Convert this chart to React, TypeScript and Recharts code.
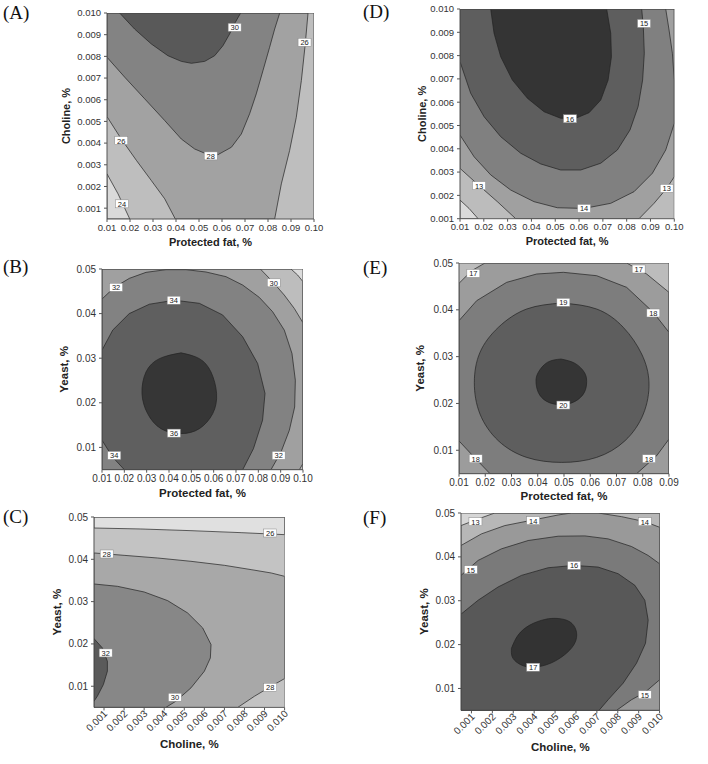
import React from "react";
import { ScatterChart, Scatter, XAxis, YAxis } from "recharts";

type Pt = [number, number];

// ---------- (A) Choline vs Protected fat
const aFatTicks = [0.01, 0.02, 0.03, 0.04, 0.05, 0.06, 0.07, 0.08, 0.09, 0.1];
const aCholineTicks = [0.001, 0.002, 0.003, 0.004, 0.005, 0.006, 0.007, 0.008, 0.009, 0.01];
const aBelow24: Pt[] = [[0.01, 0.0005], [0.01, 0.00258], [0.0148, 0.00166], [0.0199, 0.0005]];
const aAbove26: Pt[] = [
  [0.01, 0.00522], [0.0162, 0.00419], [0.0228, 0.0032], [0.0293, 0.00227], [0.0351, 0.00143], [0.0397, 0.0005],
  [0.0829, 0.0005], [0.0858, 0.00212], [0.0894, 0.00366], [0.0923, 0.00519], [0.0945, 0.00688], [0.0962, 0.00857],
  [0.0974, 0.01], [0.01, 0.01],
];
const aAbove28: Pt[] = [
  [0.01, 0.00796], [0.0177, 0.00704], [0.0264, 0.00604], [0.0351, 0.00504], [0.0423, 0.00419], [0.0481, 0.00373],
  [0.0539, 0.00347], [0.0583, 0.00347], [0.0641, 0.00381], [0.0684, 0.00442], [0.072, 0.00535], [0.0749, 0.00627],
  [0.0778, 0.00734], [0.0807, 0.00842], [0.0829, 0.00926], [0.0851, 0.01], [0.01, 0.01],
];
const aAbove30: Pt[] = [
  [0.0155, 0.01], [0.022, 0.00926], [0.0293, 0.00857], [0.0365, 0.00803], [0.0423, 0.00777], [0.0467, 0.00768],
  [0.0525, 0.00777], [0.0568, 0.00803], [0.0604, 0.00849], [0.0633, 0.00903], [0.0658, 0.00957], [0.0681, 0.01],
];
const aLabels = [
  { x: 0.0655, y: 0.00934, text: "30" },
  { x: 0.0959, y: 0.00865, text: "26" },
  { x: 0.0162, y: 0.00412, text: "26" },
  { x: 0.0551, y: 0.00341, text: "28" },
  { x: 0.0165, y: 0.0012, text: "24" },
];

// ---------- (D) Choline vs Protected fat
const dFatTicks = [0.01, 0.02, 0.03, 0.04, 0.05, 0.06, 0.07, 0.08, 0.09, 0.1];
const dCholineTicks = [0.001, 0.002, 0.003, 0.004, 0.005, 0.006, 0.007, 0.008, 0.009, 0.01];
const dBelow12: Pt[] = [[0.01, 0.001], [0.01, 0.0018], [0.0138, 0.00144], [0.0176, 0.001]];
const dAbove13: Pt[] = [
  [0.01, 0.00316], [0.018, 0.00242], [0.0257, 0.00173], [0.0334, 0.001], [0.0852, 0.001], [0.0915, 0.00166],
  [0.0968, 0.0023], [0.1, 0.0028], [0.1, 0.01], [0.01, 0.01],
];
const dAbove14: Pt[] = [
  [0.01, 0.00459], [0.0159, 0.00366], [0.0229, 0.00288], [0.0313, 0.00223], [0.0411, 0.00173], [0.0509, 0.00147],
  [0.0621, 0.00144], [0.0733, 0.00166], [0.0831, 0.00216], [0.0908, 0.00295], [0.0964, 0.00395], [0.1, 0.00509],
  [0.1, 0.00695], [0.0992, 0.0081], [0.0978, 0.0091], [0.0964, 0.01], [0.01, 0.01],
];
const dAbove15: Pt[] = [
  [0.01, 0.00774], [0.0145, 0.00638], [0.0201, 0.00538], [0.0271, 0.00452], [0.0355, 0.00381], [0.0439, 0.00335],
  [0.0523, 0.00309], [0.0607, 0.00309], [0.0691, 0.00338], [0.0761, 0.00395], [0.0814, 0.00481], [0.0848, 0.00581],
  [0.0867, 0.00695], [0.0874, 0.0081], [0.087, 0.00924], [0.0863, 0.01], [0.01, 0.01],
];
const dAbove16: Pt[] = [
  [0.0229, 0.01], [0.0243, 0.00896], [0.0271, 0.00795], [0.032, 0.00695], [0.0383, 0.00617], [0.0453, 0.00559],
  [0.0523, 0.00531], [0.0586, 0.00531], [0.0642, 0.00555], [0.0691, 0.00609], [0.0722, 0.00695], [0.0736, 0.00795],
  [0.0733, 0.00896], [0.0716, 0.01],
];
const dLabels = [
  { x: 0.0873, y: 0.00938, text: "15" },
  { x: 0.0562, y: 0.00529, text: "16" },
  { x: 0.018, y: 0.00242, text: "13" },
  { x: 0.0621, y: 0.00144, text: "14" },
  { x: 0.0968, y: 0.0023, text: "13" },
];

// ---------- (B) Yeast vs Protected fat
const bFatTicks = [0.01, 0.02, 0.03, 0.04, 0.05, 0.06, 0.07, 0.08, 0.09, 0.1];
const bYeastTicks = [0.01, 0.02, 0.03, 0.04, 0.05];
const bAbove28: Pt[] = [[0.01, 0.005], [0.01, 0.05], [0.0946, 0.05], [0.0976, 0.04865], [0.1, 0.04715], [0.1, 0.005]];
const bAbove30: Pt[] = [
  [0.01, 0.005], [0.01, 0.05], [0.0809, 0.05], [0.0864, 0.04715], [0.0916, 0.04416], [0.0961, 0.04116],
  [0.1, 0.03794], [0.1, 0.0064], [0.0984, 0.005],
];
const bAbove32: Pt[] = [
  [0.01, 0.04326], [0.01552, 0.04588], [0.02224, 0.0479], [0.0297, 0.04925], [0.03866, 0.04985], [0.04761, 0.04985],
  [0.05657, 0.04933], [0.06552, 0.04828], [0.07299, 0.0464], [0.08045, 0.04363], [0.08642, 0.04041], [0.09164, 0.03629],
  [0.09507, 0.03105], [0.09657, 0.02506], [0.09627, 0.01906], [0.09388, 0.01382], [0.09015, 0.00895], [0.08567, 0.005],
  [0.01, 0.005],
];
const bAbove34: Pt[] = [
  [0.01, 0.0318], [0.0148, 0.0363], [0.0222, 0.04], [0.0312, 0.0421], [0.0424, 0.043], [0.0536, 0.0423],
  [0.064, 0.0397], [0.073, 0.0348], [0.0797, 0.0288], [0.083, 0.0221], [0.0819, 0.0161], [0.0778, 0.0097],
  [0.073, 0.005], [0.02, 0.005], [0.0148, 0.0078], [0.01, 0.0116],
];
const bAbove36: Pt[] = [
  [0.0454, 0.0312], [0.0536, 0.0299], [0.0588, 0.0269], [0.0613, 0.0221], [0.0596, 0.0176], [0.0536, 0.0142],
  [0.0454, 0.0131], [0.0364, 0.0142], [0.0304, 0.0176], [0.0279, 0.0221], [0.0297, 0.0269], [0.0357, 0.0299],
];
const bLabels = [
  { x: 0.0163, y: 0.0459, text: "32" },
  { x: 0.0421, y: 0.043, text: "34" },
  { x: 0.0869, y: 0.0469, text: "30" },
  { x: 0.0422, y: 0.0132, text: "36" },
  { x: 0.0155, y: 0.0082, text: "34" },
  { x: 0.0891, y: 0.0082, text: "32" },
];

// ---------- (E) Yeast vs Protected fat
const eFatTicks = [0.01, 0.02, 0.03, 0.04, 0.05, 0.06, 0.07, 0.08, 0.09];
const eYeastTicks = [0.01, 0.02, 0.03, 0.04, 0.05];
const eAbove17: Pt[] = [
  [0.01, 0.005], [0.01, 0.04566], [0.01483, 0.04836], [0.0199, 0.05], [0.07387, 0.05], [0.08149, 0.04765],
  [0.09, 0.04373], [0.09, 0.005],
];
const eAbove18: Pt[] = [
  [0.01, 0.03768], [0.01673, 0.04195], [0.02816, 0.04587], [0.03959, 0.04765], [0.04975, 0.04801], [0.06244, 0.04729],
  [0.07387, 0.0448], [0.08403, 0.03946], [0.09, 0.03519], [0.09, 0.01239], [0.0853, 0.00883], [0.07768, 0.005],
  [0.02181, 0.005], [0.0161, 0.00833], [0.01, 0.012],
];
const eAbove19: Pt[] = [
  [0.04911, 0.04145], [0.06244, 0.04017], [0.0726, 0.03625], [0.07959, 0.03056], [0.08238, 0.02443], [0.08022, 0.01774],
  [0.07324, 0.01204], [0.06244, 0.00848], [0.04911, 0.00741], [0.03578, 0.00848], [0.02498, 0.01204], [0.018, 0.01774],
  [0.01584, 0.02443], [0.018, 0.03091], [0.02498, 0.03625], [0.03578, 0.04017],
];
const eAbove20: Pt[] = [
  [0.04886, 0.02949], [0.05419, 0.02856], [0.05775, 0.02664], [0.05863, 0.02471], [0.05775, 0.02236], [0.05419, 0.02044],
  [0.04886, 0.01973], [0.0434, 0.02044], [0.04022, 0.02236], [0.03933, 0.02471], [0.04022, 0.02664], [0.04365, 0.02877],
];
const eLabels = [
  { x: 0.01546, y: 0.04779, text: "17" },
  { x: 0.07844, y: 0.04872, text: "17" },
  { x: 0.04975, y: 0.0416, text: "19" },
  { x: 0.08403, y: 0.03932, text: "18" },
  { x: 0.04975, y: 0.01966, text: "20" },
  { x: 0.01635, y: 0.00819, text: "18" },
  { x: 0.08238, y: 0.00819, text: "18" },
];

// ---------- (C) Yeast vs Choline
const cCholineTicks = [0.001, 0.002, 0.003, 0.004, 0.005, 0.006, 0.007, 0.008, 0.009, 0.01];
const cYeastTicks = [0.01, 0.02, 0.03, 0.04, 0.05];
const cBelow26: Pt[] = [
  [0.0005, 0.05], [0.01, 0.05], [0.01, 0.04583], [0.007833, 0.0463], [0.005333, 0.04677], [0.002833, 0.04717],
  [0.0005, 0.0474],
];
const cAbove28: Pt[] = [
  [0.0005, 0.0415], [0.002, 0.04094], [0.003667, 0.04031], [0.005333, 0.03953], [0.007, 0.03858], [0.008333, 0.03756],
  [0.009333, 0.03677], [0.01, 0.03598], [0.01, 0.01181], [0.009333, 0.01], [0.0085, 0.00764], [0.007667, 0.005],
  [0.0005, 0.005],
];
const cAbove30: Pt[] = [
  [0.0005, 0.03417], [0.001667, 0.03362], [0.003, 0.03228], [0.004167, 0.03024], [0.005167, 0.02732], [0.005917, 0.02378],
  [0.006333, 0.01984], [0.0063, 0.01669], [0.006, 0.01354], [0.005333, 0.00961], [0.004583, 0.00646], [0.004083, 0.005],
  [0.0005, 0.005],
];
const cAbove32: Pt[] = [
  [0.0005, 0.02126], [0.000917, 0.01906], [0.001167, 0.01591], [0.001167, 0.01354], [0.000967, 0.01039],
  [0.000667, 0.00764], [0.0005, 0.00646],
];
const cLabels = [
  { x: 0.009283, y: 0.04622, text: "26" },
  { x: 0.001133, y: 0.04126, text: "28" },
  { x: 0.001083, y: 0.01787, text: "32" },
  { x: 0.004533, y: 0.0074, text: "30" },
  { x: 0.009283, y: 0.00976, text: "28" },
];

// ---------- (F) Yeast vs Choline
const fCholineTicks = [0.001, 0.002, 0.003, 0.004, 0.005, 0.006, 0.007, 0.008, 0.009, 0.01];
const fYeastTicks = [0.01, 0.02, 0.03, 0.04, 0.05];
const fAbove13: Pt[] = [
  [0.0005, 0.005], [0.0005, 0.04713], [0.001319, 0.04864], [0.002116, 0.05], [0.01, 0.05], [0.01, 0.005],
];
const fAbove14: Pt[] = [
  [0.0005, 0.005], [0.0005, 0.04259], [0.001478, 0.04524], [0.002595, 0.04713], [0.003951, 0.04841], [0.005147, 0.04955],
  [0.005785, 0.05], [0.007061, 0.05], [0.008177, 0.04917], [0.009293, 0.04803], [0.01, 0.04675], [0.01, 0.005],
];
const fAbove15: Pt[] = [
  [0.0005, 0.005], [0.0005, 0.03578], [0.001319, 0.03919], [0.002435, 0.04183], [0.003711, 0.04372], [0.005147, 0.04471],
  [0.006423, 0.04478], [0.007539, 0.0441], [0.008656, 0.04236], [0.009453, 0.04032], [0.01, 0.03843], [0.01, 0.01197],
  [0.009293, 0.00909], [0.008656, 0.00743], [0.007938, 0.005],
];
const fAbove16: Pt[] = [
  [0.0005, 0.005], [0.0005, 0.02694], [0.001319, 0.03011], [0.002276, 0.03314], [0.003392, 0.03578], [0.004668, 0.03752],
  [0.005912, 0.03805], [0.007061, 0.03767], [0.008018, 0.03616], [0.008815, 0.03352], [0.009293, 0.03011],
  [0.009453, 0.02558], [0.009325, 0.02028], [0.008895, 0.01575], [0.008257, 0.01121], [0.007539, 0.00743],
  [0.0071, 0.005],
];
const fAbove17: Pt[] = [
  [0.002914, 0.01915], [0.003233, 0.02217], [0.003791, 0.02444], [0.004509, 0.02573], [0.005147, 0.02595],
  [0.005705, 0.0252], [0.006, 0.02331], [0.006, 0.02104], [0.005705, 0.01877], [0.005147, 0.01665], [0.004509, 0.01529],
  [0.003791, 0.01484], [0.003233, 0.01575], [0.002946, 0.01726],
];
const fLabels = [
  { x: 0.001191, y: 0.04803, text: "13" },
  { x: 0.003951, y: 0.04826, text: "14" },
  { x: 0.009293, y: 0.04803, text: "14" },
  { x: 0.000968, y: 0.03707, text: "15" },
  { x: 0.005912, y: 0.03805, text: "16" },
  { x: 0.003951, y: 0.01484, text: "17" },
  { x: 0.009293, y: 0.00856, text: "15" },
];

const SANS = "'Liberation Sans', Arial, sans-serif";
const LINE = "#222";

// smooth = closed loop inside the plot, drawn with a natural spline
type Region = { pts: Pt[]; fill: string; smooth?: boolean };
type Tag = { x: number; y: number; text: string };

// close the ring so the stroke runs all the way round
const toRing = (pts: Pt[]) => [...pts, pts[0]].map(([x, y]) => ({ x, y }));

const NoDot = () => <g />;

const ContourLabel = (props: any) => {
  const { cx, cy } = props;
  const text: string = props.payload?.text ?? props.text;
  const w = text.length * 5 + 3;
  return (
    <g>
      <rect x={cx - w / 2} y={cy - 4} width={w} height={8} fill="#fff" stroke="#888" strokeWidth={0.5} />
      <text x={cx} y={cy + 3} textAnchor="middle" fontSize={7.5} fill="#222" fontFamily={SANS}>
        {text}
      </text>
    </g>
  );
};

const SlantTick = (props: any) => {
  const { x, y, payload, digits, fontSize } = props;
  return (
    <text
      x={x + 4}
      y={y + 2}
      textAnchor="end"
      fontSize={fontSize}
      fill="#333"
      fontFamily={SANS}
      transform={`rotate(-45, ${x + 4}, ${y + 2})`}
    >
      {Number(payload.value).toFixed(digits)}
    </text>
  );
};

interface PanelProps {
  left: number;
  top: number;
  w: number;
  h: number;
  xDomain: [number, number];
  yDomain: [number, number];
  xTicks: number[];
  yTicks: number[];
  xDigits: number;
  yDigits: number;
  xTitle: string;
  yTitle: string;
  xTitleBase: number;
  yTitleX: number;
  background: string;
  regions: Region[];
  labels: Tag[];
  slant?: boolean;
  tickFont: number;
  titleFont: number;
}

const Y_W = 70;
const M_TOP = 8;
const M_RIGHT = 16;

const Panel = (p: PanelProps) => {
  const xh = p.slant ? 56 : 40;
  const chartLeft = p.left - Y_W;
  const chartTop = p.top - M_TOP;
  const [x0, x1] = p.xDomain;
  const [y0, y1] = p.yDomain;
  const frame: Pt[] = [[x0, y0], [x0, y1], [x1, y1], [x1, y0]];
  const titleStyle = { fontWeight: 700, fontSize: p.titleFont, fill: "#222", fontFamily: SANS };

  return (
    <div style={{ position: "absolute", left: chartLeft, top: chartTop }}>
      <ScatterChart
        width={p.w + Y_W + M_RIGHT}
        height={p.h + M_TOP + xh}
        margin={{ top: M_TOP, right: M_RIGHT, left: 0, bottom: 0 }}
      >
        <XAxis
          type="number"
          dataKey="x"
          domain={p.xDomain}
          allowDataOverflow
          ticks={p.xTicks}
          interval={0}
          height={xh}
          tickSize={3}
          tickMargin={2}
          stroke="#555"
          tick={
            p.slant
              ? (t: any) => <SlantTick {...t} digits={p.xDigits} fontSize={p.tickFont} />
              : { fontSize: p.tickFont, fill: "#333", fontFamily: SANS }
          }
          tickFormatter={(v: number) => v.toFixed(p.xDigits)}
          label={{
            value: p.xTitle,
            position: "insideBottom",
            offset: p.top + p.h + xh - p.xTitleBase,
            style: titleStyle,
          }}
        />
        <YAxis
          type="number"
          dataKey="y"
          domain={p.yDomain}
          allowDataOverflow
          ticks={p.yTicks}
          interval={0}
          width={Y_W}
          tickSize={3}
          tickMargin={3}
          stroke="#555"
          tick={{ fontSize: p.tickFont, fill: "#333", fontFamily: SANS }}
          tickFormatter={(v: number) => v.toFixed(p.yDigits)}
          label={{
            value: p.yTitle,
            angle: -90,
            position: "insideLeft",
            offset: p.yTitleX - chartLeft,
            style: { ...titleStyle, textAnchor: "middle" },
          }}
        />
        <Scatter
          data={toRing(frame)}
          shape={NoDot}
          line={{ fill: p.background, stroke: "none" }}
          isAnimationActive={false}
        />
        {p.regions.map((r, i) => (
          <Scatter
            key={i}
            data={toRing(r.pts)}
            shape={NoDot}
            line={{ fill: r.fill, stroke: LINE, strokeWidth: 0.7 }}
            lineJointType={r.smooth ? "natural" : "linear"}
            isAnimationActive={false}
          />
        ))}
        <Scatter
          data={toRing(frame)}
          shape={NoDot}
          line={{ fill: "none", stroke: "#555", strokeWidth: 1 }}
          isAnimationActive={false}
        />
        <Scatter data={p.labels} shape={ContourLabel} isAnimationActive={false} />
      </ScatterChart>
    </div>
  );
};

const Letter = ({ text, left, top }: { text: string; left: number; top: number }) => (
  <div
    style={{
      position: "absolute",
      left,
      top,
      fontFamily: "'Liberation Serif', 'Times New Roman', serif",
      fontSize: 19,
      lineHeight: "20px",
      color: "#111",
    }}
  >
    {text}
  </div>
);

const App = () => {
  return (
    <div style={{ position: "absolute", left: 0, top: 0, width: 708, height: 764, background: "#fff" }}>
      <Letter text="(A)" left={3} top={3} />
      <Letter text="(D)" left={363} top={2} />
      <Letter text="(B)" left={3} top={257} />
      <Letter text="(E)" left={363} top={258} />
      <Letter text="(C)" left={3} top={507} />
      <Letter text="(F)" left={363} top={508} />

      <Panel
        left={107.3} top={13.3} w={207} h={206}
        xDomain={[0.01, 0.1]} yDomain={[0.0005, 0.01]}
        xTicks={aFatTicks} yTicks={aCholineTicks} xDigits={2} yDigits={3}
        xTitle="Protected fat, %" yTitle="Choline, %" xTitleBase={246.7} yTitleX={66.7}
        background="#bebebe"
        regions={[
          { pts: aAbove26, fill: "#a2a2a2" },
          { pts: aAbove28, fill: "#838383" },
          { pts: aAbove30, fill: "#595959" },
          { pts: aBelow24, fill: "#dadada" },
        ]}
        labels={aLabels}
        tickFont={9.5} titleFont={11}
      />
      <Panel
        left={459.7} top={9.3} w={214.3} h={209.7}
        xDomain={[0.01, 0.1]} yDomain={[0.001, 0.01]}
        xTicks={dFatTicks} yTicks={dCholineTicks} xDigits={2} yDigits={3}
        xTitle="Protected fat, %" yTitle="Choline, %" xTitleBase={245.7} yTitleX={422.3}
        background="#bcbcbc"
        regions={[
          { pts: dAbove13, fill: "#a0a0a0" },
          { pts: dAbove14, fill: "#808080" },
          { pts: dAbove15, fill: "#5e5e5e" },
          { pts: dAbove16, fill: "#343434" },
          { pts: dBelow12, fill: "#dadada" },
        ]}
        labels={dLabels}
        tickFont={9.5} titleFont={11}
      />
      <Panel
        left={101.7} top={269.3} w={201} h={200.7}
        xDomain={[0.01, 0.1]} yDomain={[0.005, 0.05]}
        xTicks={bFatTicks} yTicks={bYeastTicks} xDigits={2} yDigits={2}
        xTitle="Protected fat, %" yTitle="Yeast, %" xTitleBase={497} yTitleX={63.3}
        background="#dcdcdc"
        regions={[
          { pts: bAbove28, fill: "#bdbdbd" },
          { pts: bAbove30, fill: "#a0a0a0" },
          { pts: bAbove32, fill: "#828282" },
          { pts: bAbove34, fill: "#5f5f5f" },
          { pts: bAbove36, fill: "#363636", smooth: true },
        ]}
        labels={bLabels}
        tickFont={10} titleFont={11.5}
      />
      <Panel
        left={459.3} top={263.3} w={210} h={210.7}
        xDomain={[0.01, 0.09]} yDomain={[0.005, 0.05]}
        xTicks={eFatTicks} yTicks={eYeastTicks} xDigits={2} yDigits={2}
        xTitle="Protected fat, %" yTitle="Yeast, %" xTitleBase={500} yTitleX={420.7}
        background="#bcbcbc"
        regions={[
          { pts: eAbove17, fill: "#9c9c9c" },
          { pts: eAbove18, fill: "#7d7d7d" },
          { pts: eAbove19, fill: "#5e5e5e", smooth: true },
          { pts: eAbove20, fill: "#353535", smooth: true },
        ]}
        labels={eLabels}
        tickFont={10} titleFont={11.5}
      />
      <Panel
        left={93.7} top={517.3} w={190.6} h={190.4}
        xDomain={[0.0005, 0.01]} yDomain={[0.005, 0.05]}
        xTicks={cCholineTicks} yTicks={cYeastTicks} xDigits={3} yDigits={2}
        xTitle="Choline, %" yTitle="Yeast, %" xTitleBase={748} yTitleX={56.7}
        background="#c3c3c3"
        regions={[
          { pts: cBelow26, fill: "#e0e0e0" },
          { pts: cAbove28, fill: "#a8a8a8" },
          { pts: cAbove30, fill: "#878787" },
          { pts: cAbove32, fill: "#5a5a5a" },
        ]}
        labels={cLabels}
        slant
        tickFont={10} titleFont={11.5}
      />
      <Panel
        left={460.7} top={513.3} w={198.6} h={197.4}
        xDomain={[0.0005, 0.01]} yDomain={[0.005, 0.05]}
        xTicks={fCholineTicks} yTicks={fYeastTicks} xDigits={3} yDigits={2}
        xTitle="Choline, %" yTitle="Yeast, %" xTitleBase={751.5} yTitleX={424}
        background="#d6d6d6"
        regions={[
          { pts: fAbove13, fill: "#b7b7b7" },
          { pts: fAbove14, fill: "#999999" },
          { pts: fAbove15, fill: "#7a7a7a" },
          { pts: fAbove16, fill: "#585858" },
          { pts: fAbove17, fill: "#333333", smooth: true },
        ]}
        labels={fLabels}
        slant
        tickFont={10} titleFont={11.5}
      />
    </div>
  );
};

export default App;
